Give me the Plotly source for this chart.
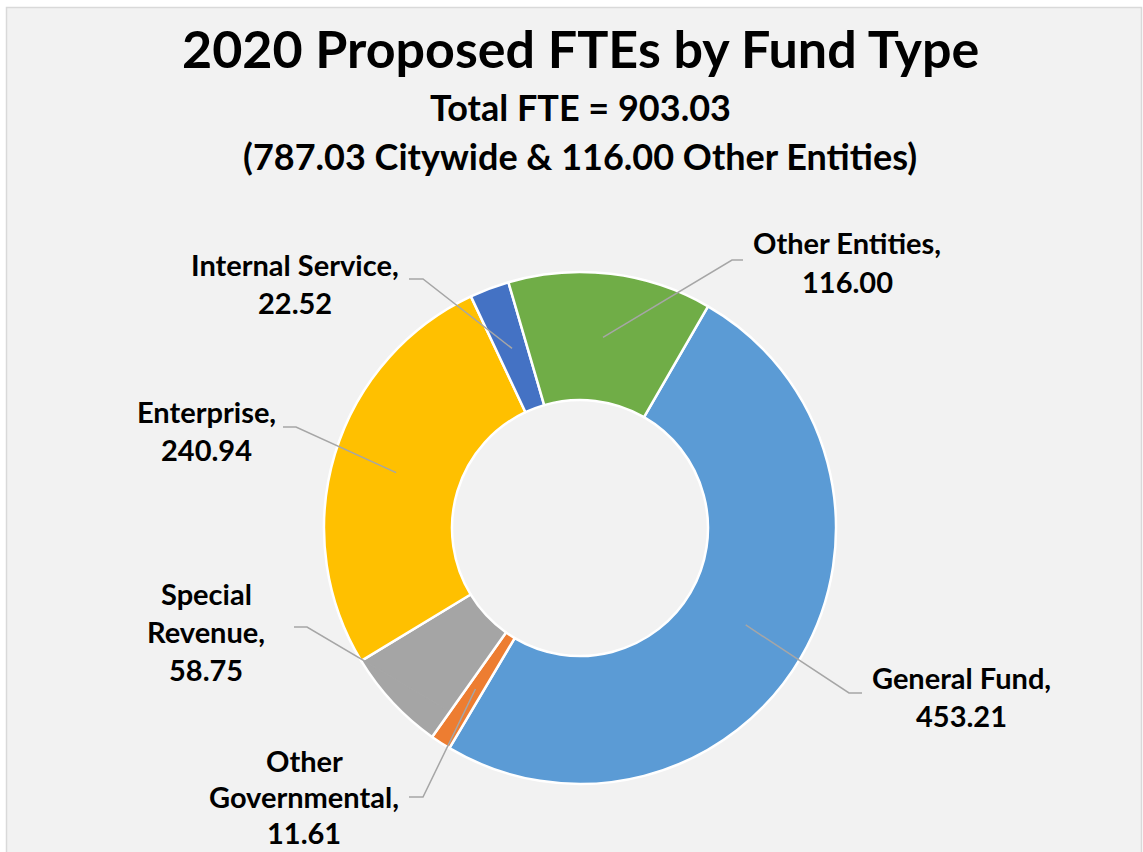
import math
import plotly.graph_objects as go

# ---- data -------------------------------------------------------------
funds = ["General Fund", "Other Governmental", "Special Revenue",
         "Enterprise", "Internal Service", "Other Entities"]
ftes = [453.21, 11.61, 58.75, 240.94, 22.52, 116.00]
colors = ["#5B9BD5", "#ED7D31", "#A5A5A5", "#FFC000", "#4472C4", "#70AD47"]

total_fte = sum(ftes)
other_entities = ftes[funds.index("Other Entities")]
citywide = total_fte - other_entities

# ---- page geometry (pixels) ---------------------------------------------
W, H = 1143, 852
CX, CY, R = 580, 528, 256      # ring centre and outer radius
HOLE = 0.5
ROT = 30                        # first slice starts 30 deg clockwise from 12 o'clock
FONT = "Lato"

# how each label name breaks onto lines
name_lines = [["General Fund,"], ["Other", "Governmental,"], ["Special", "Revenue,"],
              ["Enterprise,"], ["Internal Service,"], ["Other Entities,"]]
# label block: centre x, first-line y, line gap
label_pos = [(961, 677, 38), (304, 760, 36), (206, 593, 38),
             (206, 411, 38), (295, 264, 38), (847, 243, 38)]
LABEL_SIZE = 29
# leader line: where it meets the slice (fraction through the slice, radius),
# then elbow point and end point next to the label
anchor = [(0.5, 192), (0.5, 192), (0.02, 225), (0.5, 192), (0.5, 192), (0.5, 192)]
elbows = [((849, 693), (862, 693)),
          ((423, 797), (409, 797)),
          ((307, 627), (294, 627)),
          ((296, 427), (283, 427)),
          ((423, 279), (409, 279)),
          ((732, 260), (743, 260))]


def px(x):
    return x / W


def py(y):
    return 1 - y / H


fig = go.Figure()

fig.add_trace(go.Pie(
    labels=funds,
    values=ftes,
    hole=HOLE,
    sort=False,
    direction="clockwise",
    rotation=ROT,
    marker=dict(colors=colors, line=dict(color="white", width=2.5)),
    textinfo="none",
    showlegend=False,
    domain=dict(x=[px(CX - R), px(CX + R)], y=[py(CY + R), py(CY - R)]),
))

shapes = [dict(type="rect", xref="paper", yref="paper",
               x0=px(6.5), x1=px(1141.5), y0=py(870), y1=py(7.5),
               fillcolor="#F2F2F2", line=dict(color="#D9D9D9", width=1.5),
               layer="below")]
annotations = []

# leader lines and labels
start = ROT
for i, v in enumerate(ftes):
    sweep = v / total_fte * 360
    frac, rad = anchor[i]
    ang = math.radians(start + frac * sweep)
    ax = CX + rad * math.sin(ang)
    ay = CY - rad * math.cos(ang)
    (ex, ey), (tx, ty) = elbows[i]
    path = (f"M {px(ax)} {py(ay)} L {px(ex)} {py(ey)} L {px(tx)} {py(ty)}")
    shapes.append(dict(type="path", xref="paper", yref="paper", path=path,
                       line=dict(color="#A6A6A6", width=1.5)))
    start += sweep

    lines = name_lines[i] + [f"{v:.2f}"]
    lx, ly, gap = label_pos[i]
    for k, t in enumerate(lines):
        annotations.append(dict(
            text=f"<b>{t}</b>", x=px(lx), y=py(ly + k * gap),
            xref="paper", yref="paper", xanchor="center", yanchor="middle",
            showarrow=False, font=dict(family=FONT, size=LABEL_SIZE, color="black")))

# titles
titles = [
    ("2020 Proposed FTEs by Fund Type", 48, 52),
    (f"Total FTE = {total_fte:.2f}", 107, 36),
    (f"({citywide:.2f} Citywide & {other_entities:.2f} Other Entities)", 156, 36),
]
for text, y, size in titles:
    annotations.append(dict(
        text=f"<b>{text}</b>", x=px(580), y=py(y), xref="paper", yref="paper",
        xanchor="center", yanchor="middle", showarrow=False,
        font=dict(family=FONT, size=size, color="black")))

fig.update_layout(
    width=W, height=H,
    margin=dict(l=0, r=0, t=0, b=0),
    paper_bgcolor="white",
    plot_bgcolor="white",
    shapes=shapes,
    annotations=annotations,
)

fig.write_html("out.html")
